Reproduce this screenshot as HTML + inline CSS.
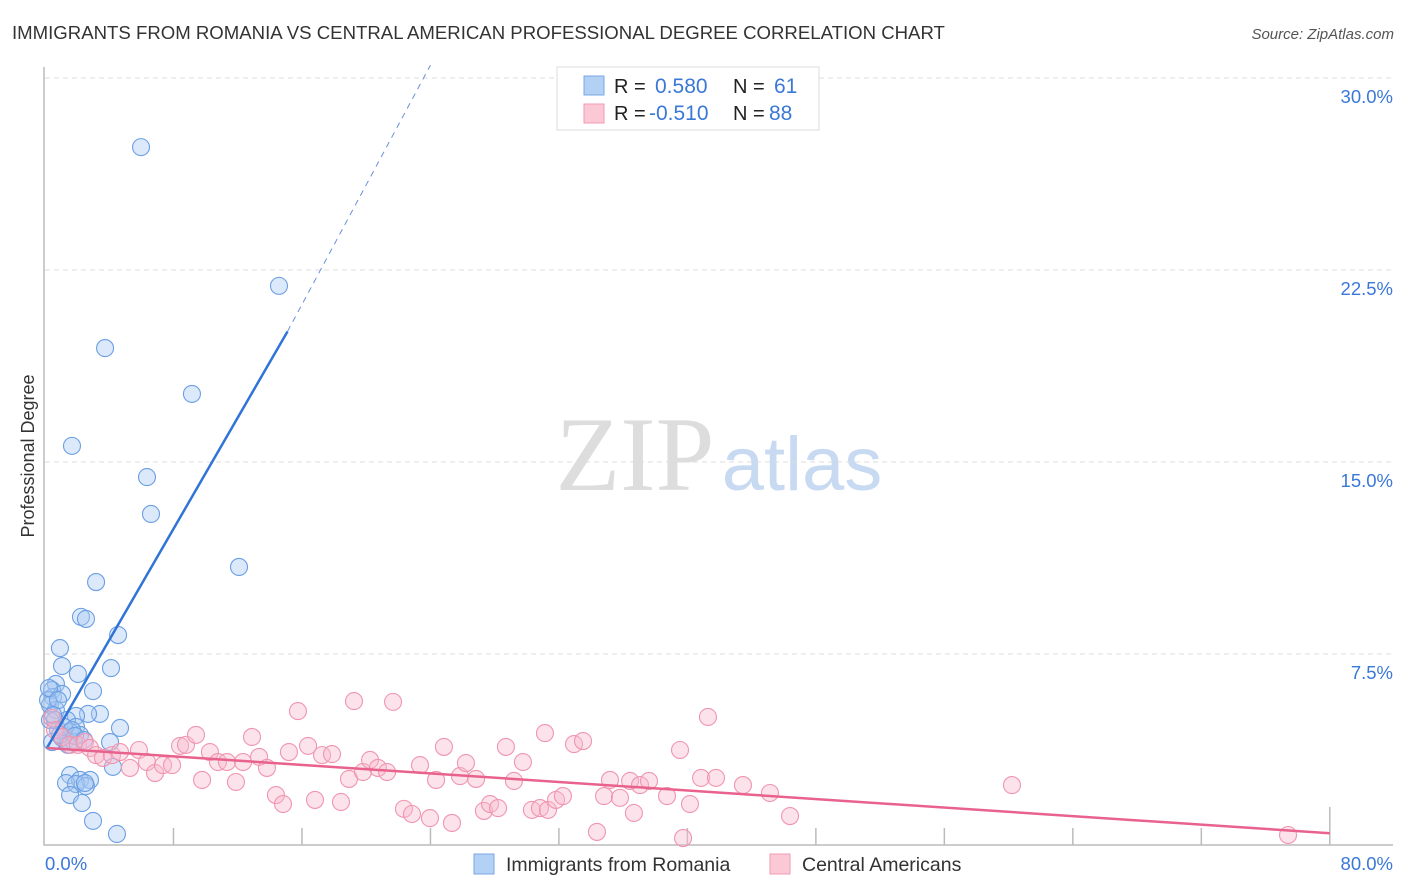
<!DOCTYPE html>
<html><head><meta charset="utf-8"><style>
body{margin:0;background:#fff;font-family:"Liberation Sans",sans-serif;}
svg{display:block}
</style></head><body>
<svg id="chart" width="1406" height="892" xmlns="http://www.w3.org/2000/svg">
<text x="12" y="39" font-size="18.6" fill="#333">IMMIGRANTS FROM ROMANIA VS CENTRAL AMERICAN PROFESSIONAL DEGREE CORRELATION CHART</text>
<text x="1394" y="39" font-size="15" fill="#555" font-style="italic" text-anchor="end">Source: ZipAtlas.com</text>
<text x="34" y="456" font-size="18" fill="#333" text-anchor="middle" transform="rotate(-90 34 456)">Professional Degree</text>
<g><text x="635" y="490" font-size="106" font-family="Liberation Serif,serif" fill="#ddd" text-anchor="middle">ZIP</text><text x="802" y="490" font-size="76" fill="#c8daf2" text-anchor="middle">atlas</text></g>
<g id="grid"></g><g id="axes"></g><g id="marks"></g>
<g>
<rect x="557" y="67" width="262" height="63" fill="#fff" stroke="#ddd"/>
<rect x="584" y="76" width="20" height="19" fill="#b3d0f5" stroke="#7aa7e6"/>
<rect x="584" y="104" width="20" height="19" fill="#fbc8d6" stroke="#f09ab3"/>
<text x="614" y="93" font-size="20" fill="#222">R = </text><text x="655" y="93" font-size="21" fill="#3a78d8">0.580</text>
<text x="733" y="93" font-size="20" fill="#222">N = </text><text x="774" y="93" font-size="21" fill="#3a78d8">61</text>
<text x="614" y="120" font-size="20" fill="#222">R = </text><text x="649" y="120" font-size="21" fill="#3a78d8">-0.510</text>
<text x="733" y="120" font-size="20" fill="#222">N = </text><text x="769" y="120" font-size="21" fill="#3a78d8">88</text>
</g>
<g>
<rect x="474" y="854" width="20" height="20" fill="#b3d0f5" stroke="#7aa7e6"/>
<text x="506" y="871" font-size="19.5" fill="#333">Immigrants from Romania</text>
<rect x="770" y="854" width="20" height="20" fill="#fbc8d6" stroke="#f09ab3"/>
<text x="802" y="871" font-size="19.5" fill="#333">Central Americans</text>
</g>
</svg>
<script>
const blueX=[5.98,14.57,3.74,9.15,1.68,6.35,6.6,12.08,3.18,2.24,2.55,4.55,0.93,1.06,4.11,2.05,2.99,0.68,0.44,0.5,1.06,0.31,0.68,3.42,2.68,1.93,0.31,1.37,1.93,4.67,0.81,1.56,2.18,4.05,1.06,1.31,1.81,0.44,4.23,1.56,2.18,2.8,1.31,1.93,2.55,1.56,2.3,2.99,4.48,2.49,0.19,0.62,1.18,1.68,0.25,0.81,1.43,0.93,1.87,2.43,0.5];
const blueY=[27.3,21.88,19.45,17.66,15.63,14.41,12.97,10.9,10.31,8.95,8.87,8.24,7.73,7.03,6.95,6.72,6.05,6.33,6.09,5.82,5.94,5.51,5.31,5.16,5.16,5.08,4.92,4.92,4.65,4.61,4.53,4.45,4.34,4.06,4.22,4.14,4.06,4.06,3.09,2.77,2.58,2.58,2.46,2.42,2.34,1.99,1.68,0.98,0.47,2.46,5.7,4.92,4.65,4.53,6.17,5.7,3.95,4.34,4.3,4.14,5.12];
const pinkX=[0.44,0.62,1.06,1.56,2.05,2.49,2.8,3.18,3.61,4.17,4.67,5.29,5.85,6.35,6.85,7.35,7.91,8.41,8.78,9.4,9.78,10.27,10.77,11.33,11.89,12.33,12.89,13.33,13.82,14.38,14.82,15.19,15.75,16.38,16.81,17.25,17.87,18.43,18.93,19.24,19.8,20.24,20.73,21.3,21.67,22.35,22.85,23.35,23.97,24.35,24.84,25.34,25.84,26.21,26.84,27.33,27.71,28.21,28.7,29.2,29.76,30.32,30.82,31.13,31.32,31.82,32.25,32.94,33.5,34.37,34.81,35.18,35.8,36.43,36.67,37.05,37.61,38.73,39.54,39.73,40.16,40.85,41.28,41.78,43.46,45.14,46.39,60.21,77.4];
const pinkY=[5.0,4.53,4.26,3.95,3.95,4.06,3.83,3.55,3.44,3.55,3.67,3.05,3.75,3.28,2.85,3.16,3.16,3.91,3.95,4.34,2.58,3.67,3.28,3.28,2.5,3.28,4.26,3.48,3.05,1.99,1.64,3.67,5.27,3.91,1.8,3.55,3.59,1.72,2.62,5.66,2.89,3.36,3.05,2.89,5.63,1.45,1.25,3.16,1.09,2.58,3.87,0.9,2.73,3.24,2.62,1.37,1.64,1.48,3.87,2.54,3.28,1.41,1.48,4.41,1.41,1.8,1.95,3.98,4.1,0.55,1.95,2.58,1.88,2.54,1.29,2.38,2.54,1.95,3.75,0.31,1.64,2.66,5.04,2.66,2.38,2.07,1.17,2.38,0.43];
const yTicks=[7.5,15,22.5,30];
const yTickLabels=["7.5%","15.0%","22.5%","30.0%"];
const xTickLabels=["0.0%","80.0%"];
const blueTrend=[0.12,3.83,15.1,20.1,24.0,30.5];
const pinkTrend=[0.12,3.83,80,0.5];
const X=v=>45+v*16.06, Y=v=>846-v*25.6;
const NS="http://www.w3.org/2000/svg";
function mk(p,t,a){const e=document.createElementNS(NS,t);for(const k in a)e.setAttribute(k,a[k]);document.getElementById(p).appendChild(e);return e;}
yTicks.forEach((t,i)=>{
 const l=mk('grid','line',{x1:45,x2:1393,y1:Y(t),y2:Y(t),stroke:'#ddd','stroke-dasharray':'5,4'});
 
 
 const tx=mk('grid','text',{x:1393,y:Y(t)+25,'font-size':18.5,fill:'#3a78d8','text-anchor':'end'});tx.textContent=yTickLabels[i];
 
 
});
const ax=mk('axes','path',{d:'M44,67 V845 H1393',stroke:'#bbb',fill:'none','stroke-width':1.5});


for(let i=1;i<=10;i++){const x=X(i*8);const t=mk('axes','line',{x1:x,x2:x,y1:i==10?807:828,y2:845,stroke:'#bbb','stroke-width':1.5});
 
 }
const xl0=mk('axes','text',{x:45,y:870,'font-size':18.5,fill:'#3a78d8'});xl0.textContent=xTickLabels[0];


const xl1=mk('axes','text',{x:1393,y:870,'font-size':18.5,fill:'#3a78d8','text-anchor':'end'});xl1.textContent=xTickLabels[1];


blueX.forEach((v,i)=>{const c=mk('marks','circle',{cx:X(v),cy:Y(blueY[i]),r:8.5,fill:'rgba(168,200,242,0.4)',stroke:'#6b9fe3','stroke-width':1.1});
 
 });
pinkX.forEach((v,i)=>{const c=mk('marks','circle',{cx:X(v),cy:Y(pinkY[i]),r:8.5,fill:'rgba(248,186,205,0.4)',stroke:'#f095b0','stroke-width':1.1});
 
 });
const b1=mk('marks','line',{x1:X(blueTrend[0]),y1:Y(blueTrend[1]),x2:X(blueTrend[2]),y2:Y(blueTrend[3]),stroke:'#2f74d6','stroke-width':2.5});


const b2=mk('marks','line',{x1:X(blueTrend[2]),y1:Y(blueTrend[3]),x2:X(blueTrend[4]),y2:Y(blueTrend[5]),stroke:'#6b8fd8','stroke-width':1,'stroke-dasharray':'6,5'});


const p1=mk('marks','line',{x1:X(pinkTrend[0]),y1:Y(pinkTrend[1]),x2:X(pinkTrend[2]),y2:Y(pinkTrend[3]),stroke:'#e8628d','stroke-width':2.5});


</script>
</body></html>
